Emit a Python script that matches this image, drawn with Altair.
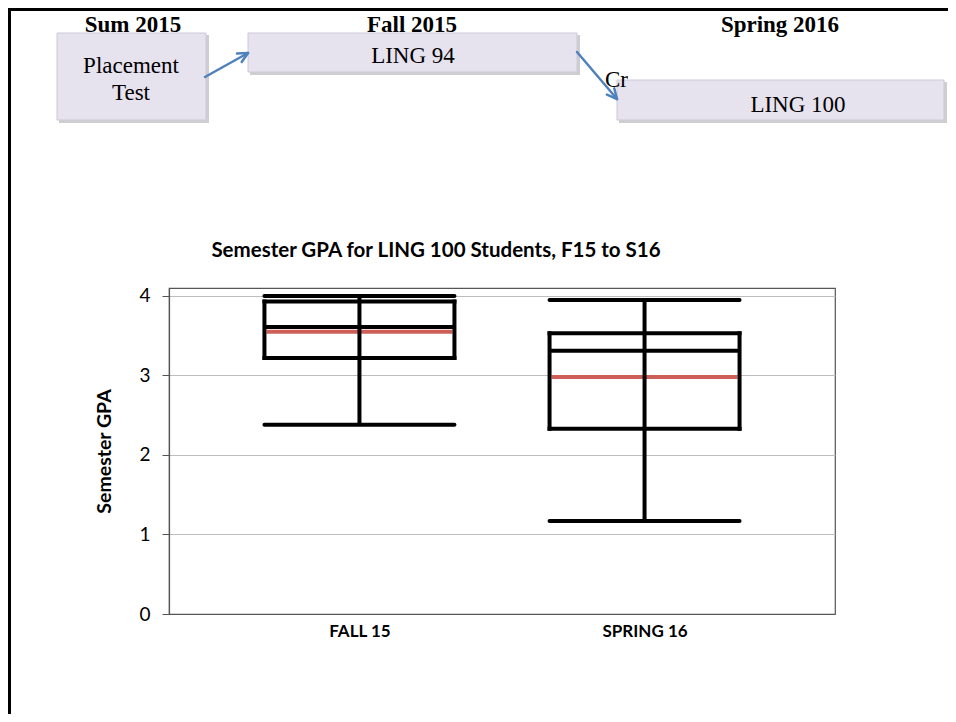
import math
import altair as alt
import pandas as pd

# ---------------- data ----------------
terms = ["FALL 15", "SPRING 16"]
gpa_min = [2.38, 1.17]
gpa_q1 = [3.22, 2.33]
gpa_median = [3.61, 3.31]
gpa_q3 = [3.93, 3.53]
gpa_max = [4.00, 3.95]
gpa_mean = [3.55, 2.98]
y_ticks = [0, 1, 2, 3, 4]

chart_title = "Semester GPA for LING 100 Students, F15 to S16"
y_title = "Semester GPA"
semester_headers = ["Sum 2015", "Fall 2015", "Spring 2016"]
course_boxes = ["Placement Test", "LING 94", "LING 100"]
credit_label = "Cr"

# ---------------- layout (pixels, relative to plot area) ----------------
W, H = 666, 326
PAD = {"left": 161, "top": 280, "right": 113, "bottom": 100}
HALF = 95

stats = pd.DataFrame({
    "term": terms, "lo": gpa_min, "q1": gpa_q1, "med": gpa_median,
    "q3": gpa_q3, "hi": gpa_max, "mean": gpa_mean,
})

xs = alt.Scale(type="point", padding=0.668)
ys = alt.Scale(domain=[0, 4.1], nice=False, zero=True)


def X():
    return alt.X("term:N", sort=terms, scale=xs, title=None)


def Y(f):
    return alt.Y(f"{f}:Q", scale=ys, title=y_title,
                 axis=alt.Axis(values=y_ticks, title=y_title))


base = alt.Chart(stats)
mean_line = base.mark_rule(color="#cd5f58", strokeWidth=4, xOffset=-HALF + 2,
                           x2Offset=HALF - 2).encode(x=X(), x2="term:N", y=Y("mean"))
whisker = base.mark_rule(color="black", strokeWidth=4).encode(x=X(), y=Y("lo"), y2="hi:Q")
caps = []
for f, cap in [("hi", "round"), ("lo", "round"), ("q1", "square"), ("q3", "square"), ("med", "butt")]:
    caps.append(base.mark_rule(color="black", strokeWidth=4, strokeCap=cap,
                               xOffset=-HALF, x2Offset=HALF)
                .encode(x=X(), x2="term:N", y=Y(f)))
sides = [base.mark_rule(color="black", strokeWidth=4, strokeCap="square", xOffset=o)
         .encode(x=X(), y=Y("q1"), y2="q3:Q") for o in (-HALF, HALF)]

box_plot = alt.layer(mean_line, whisker, *caps, *sides)

# ---------------- decorations ----------------


def px(f):
    return alt.X(f"{f}:Q", scale=None, axis=None)


def py(f):
    return alt.Y(f"{f}:Q", scale=None, axis=None)


rects = pd.DataFrame({
    "x0": [-112, 79, 448], "x1": [37, 408, 775],
    "y0": [-255, -255, -208], "y1": [-168, -216, -168],
})
shadow = pd.DataFrame({
    "x0": rects.x0 + 2, "x1": rects.x1 + 3, "y0": rects.y0 + 2, "y1": rects.y1 + 3,
})
shadow_layer = alt.Chart(shadow).mark_rect(color="#b9b9bd", opacity=0.7).encode(
    x=px("x0"), x2="x1:Q", y=py("y0"), y2="y1:Q")
rect_layer = alt.Chart(rects).mark_rect(fill="#e6e2ee", stroke="#cdc8da", strokeWidth=1).encode(
    x=px("x0"), x2="x1:Q", y=py("y0"), y2="y1:Q")

headers = pd.DataFrame({"t": semester_headers, "x": [-36, 243, 611], "y": [-256, -256, -256]})
header_layer = alt.Chart(headers).mark_text(font="Liberation Serif", fontSize=23, fontWeight="bold",
                                            baseline="alphabetic", align="center", color="black").encode(
    x=px("x"), y=py("y"), text="t:N")

btexts = pd.DataFrame({
    "t": ["Placement", "Test", course_boxes[1], course_boxes[2]],
    "x": [-38, -38, 244, 629], "y": [-215, -188, -225, -176],
})
btext_layer = alt.Chart(btexts).mark_text(font="Liberation Serif", fontSize=23,
                                          baseline="alphabetic", align="center", color="black").encode(
    x=px("x"), y=py("y"), text="t:N")
cr_layer = alt.Chart(pd.DataFrame({"t": [credit_label], "x": [436], "y": [-201]})).mark_text(
    font="Liberation Serif", fontSize=23, baseline="alphabetic", align="left", color="black").encode(
    x=px("x"), y=py("y"), text="t:N")

# arrows
arrows = [((36, -211), (79, -235)), ((408, -236), (448, -189))]
segs = []
for (sx, sy), (ex, ey) in arrows:
    segs.append((sx, sy, ex, ey))
    ang = math.atan2(ey - sy, ex - sx)
    for d in (math.radians(26), -math.radians(26)):
        a = ang + math.pi + d
        segs.append((ex, ey, ex + 11 * math.cos(a), ey + 11 * math.sin(a)))
arrow_df = pd.DataFrame(segs, columns=["x", "y", "x2", "y2"])
arrow_layer = alt.Chart(arrow_df).mark_rule(color="#4f81bd", strokeWidth=2.5, strokeCap="round").encode(
    x=px("x"), y=py("y"), x2="x2:Q", y2="y2:Q")

# outer frame (top + left)
frame_df = pd.DataFrame({"x": [-PAD["left"], -PAD["left"] + 1.5], "y": [-PAD["top"] + 1.5, -PAD["top"]],
                         "x2": [W + PAD["right"], -PAD["left"] + 1.5], "y2": [-PAD["top"] + 1.5, H + PAD["bottom"]]})
frame_layer = alt.Chart(frame_df).mark_rule(color="black", strokeWidth=3).encode(
    x=px("x"), y=py("y"), x2="x2:Q", y2="y2:Q")

title_layer = alt.Chart(pd.DataFrame({"t": [chart_title], "x": [267], "y": [-31]})).mark_text(
    font="Lato", fontSize=20.5, fontWeight="bold", baseline="alphabetic", align="center", color="black").encode(
    x=px("x"), y=py("y"), text="t:N")

deco = alt.layer(frame_layer, shadow_layer, rect_layer, arrow_layer, header_layer,
                 btext_layer, cr_layer, title_layer)

chart = alt.layer(box_plot, deco).resolve_scale(x="independent", y="independent").properties(
    width=W, height=H, padding=PAD, autosize=alt.AutoSizeParams(type="none"),
    background="white",
).configure_view(stroke="#555555", strokeWidth=1.2).configure_axisY(
    grid=True, gridColor="#bdbdbd", gridWidth=1, tickSize=7, tickColor="#555555",
    domainColor="#555555", domainWidth=1.2, labelFont="Lato", labelFontSize=19, labelColor="black",
    labelPadding=12, titleFont="Lato", titleFontSize=19.5, titleFontWeight="bold", titleColor="black",
    titlePadding=24,
).configure_axisX(
    grid=False, ticks=False, domainColor="#555555", domainWidth=1.2, labelFont="Lato",
    labelFontSize=17, labelFontWeight="bold", labelColor="black", labelPadding=9, labelAngle=0,
)

chart.save("out.html", embed_options={"renderer": "svg", "actions": False})
